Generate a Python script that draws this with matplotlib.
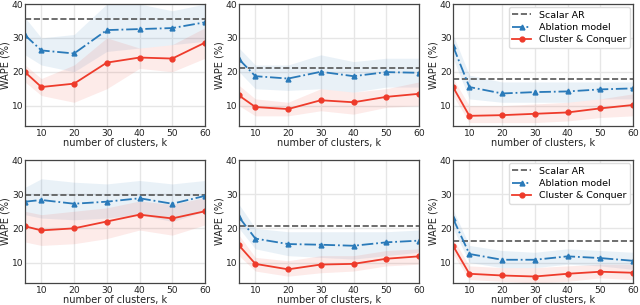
import numpy as np
import matplotlib
matplotlib.use("Agg")
import matplotlib.pyplot as plt

k = [5, 10, 20, 30, 40, 50, 60]

# per panel: scalar AR level, ablation (mean, lo, hi), cluster & conquer (mean, lo, hi)
scalar = [35.5, 21.2, 18.0, 29.8, 20.6, 16.4]

abl = [
    [30.8, 26.3, 25.4, 32.3, 32.6, 32.9, 34.6],
    [23.7, 18.7, 18.0, 20.0, 18.7, 19.9, 19.7],
    [27.6, 15.5, 13.6, 14.0, 14.2, 14.8, 15.1],
    [27.8, 28.3, 27.2, 27.8, 28.8, 27.2, 29.5],
    [23.3, 17.0, 15.4, 15.2, 14.9, 15.9, 16.4],
    [22.9, 12.5, 10.8, 10.8, 11.8, 11.3, 10.5],
]
abl_lo = [
    [25, 22, 20, 26, 27, 28, 29],
    [20, 15, 14.5, 15, 14, 15.5, 15.5],
    [24, 12, 11, 11, 11, 12, 12],
    [24, 23, 22.5, 23, 24, 22, 25],
    [20, 14, 12, 11.5, 11, 12, 13],
    [20, 10, 8.5, 8.5, 9.5, 9, 8],
]
abl_hi = [
    [36, 30, 31, 40, 40, 38, 40],
    [27, 22, 22, 25, 23, 24, 24],
    [31, 19, 17, 17, 17, 17, 17],
    [32, 34.5, 33.5, 33, 34, 33, 34],
    [27, 20, 19, 19, 19, 19, 19.5],
    [25.5, 15, 13.5, 13, 14, 13.5, 13],
]

cc = [
    [19.9, 15.5, 16.5, 22.7, 24.2, 23.9, 28.6],
    [13.0, 9.6, 9.0, 11.6, 11.0, 12.6, 13.5],
    [15.5, 7.0, 7.2, 7.6, 8.0, 9.2, 10.2],
    [20.6, 19.4, 20.0, 22.0, 24.0, 22.9, 25.0],
    [15.0, 9.6, 8.0, 9.4, 9.6, 11.1, 11.8],
    [14.9, 6.7, 6.2, 5.9, 6.7, 7.3, 7.0],
]
cc_lo = [
    [17, 13, 11, 15, 21, 20, 24],
    [10, 7, 7, 8.5, 7.5, 9.5, 10],
    [13, 5, 5, 5, 5.5, 6.5, 7],
    [16, 15, 15.5, 17, 19.5, 18, 21],
    [12, 7.5, 6, 7, 7.5, 9, 9.5],
    [12.5, 5, 4.5, 4, 4.5, 5.5, 5],
]
cc_hi = [
    [22, 18, 22, 30, 27, 28, 33],
    [16, 12, 11, 15, 14, 15, 17],
    [18, 10, 10, 10.5, 11, 12, 13.5],
    [25, 24, 25, 26, 28, 27, 29],
    [18, 11.5, 10.5, 12, 12, 13.5, 14],
    [17, 9, 8.5, 8.5, 9, 9.5, 9.5],
]

blue = "#2a7ab9"
red = "#ee3b2b"

W, H = 640, 305
fig = plt.figure(figsize=(6.4, 3.05), dpi=100)

lefts = [25, 239, 453]
rows = [(4, 126), (160, 283)]

axes = []
for top, bot in rows:
    for l in lefts:
        axes.append(fig.add_axes([l / W, 1 - bot / H, 180 / W, (bot - top) / H]))

for i, ax in enumerate(axes):
    ax.fill_between(k, abl_lo[i], abl_hi[i], color=blue, alpha=0.1, lw=0)
    ax.fill_between(k, cc_lo[i], cc_hi[i], color=red, alpha=0.1, lw=0)
    ax.axhline(scalar[i], color="#555555", ls="--", lw=1.2, label="Scalar AR")
    ax.plot(k, abl[i], color=blue, ls="-.", marker="^", ms=3.5, lw=1.3, label="Ablation model")
    ax.plot(k, cc[i], color=red, ls="-", marker="o", ms=3.5, lw=1.3, label="Cluster & Conquer")
    ax.set_xlim(5, 60)
    ax.set_ylim(4, 40)
    ax.set_xticks([10, 20, 30, 40, 50, 60])
    ax.set_yticks([10, 20, 30, 40])
    ax.grid(True, color="#e6e6e6", lw=1)
    ax.set_axisbelow(True)
    for s in ax.spines.values():
        s.set_color("#444444")
        s.set_linewidth(0.9)
    ax.tick_params(length=0, colors="#222222", labelsize=6.6)
    ax.tick_params(axis="y", pad=1)
    ax.tick_params(axis="x", pad=2)
    ax.set_xlabel("number of clusters, k", labelpad=0.5, fontsize=7, color="#222222")
    ax.set_ylabel("WAPE (%)", labelpad=1, fontsize=7, color="#222222")
    if i % 3 == 2:
        ax.legend(loc="upper right", fontsize=6.8, handlelength=2, borderaxespad=0.3,
                  framealpha=1, edgecolor="#dddddd", borderpad=0.4, labelspacing=0.35)

fig.savefig("out.png")
